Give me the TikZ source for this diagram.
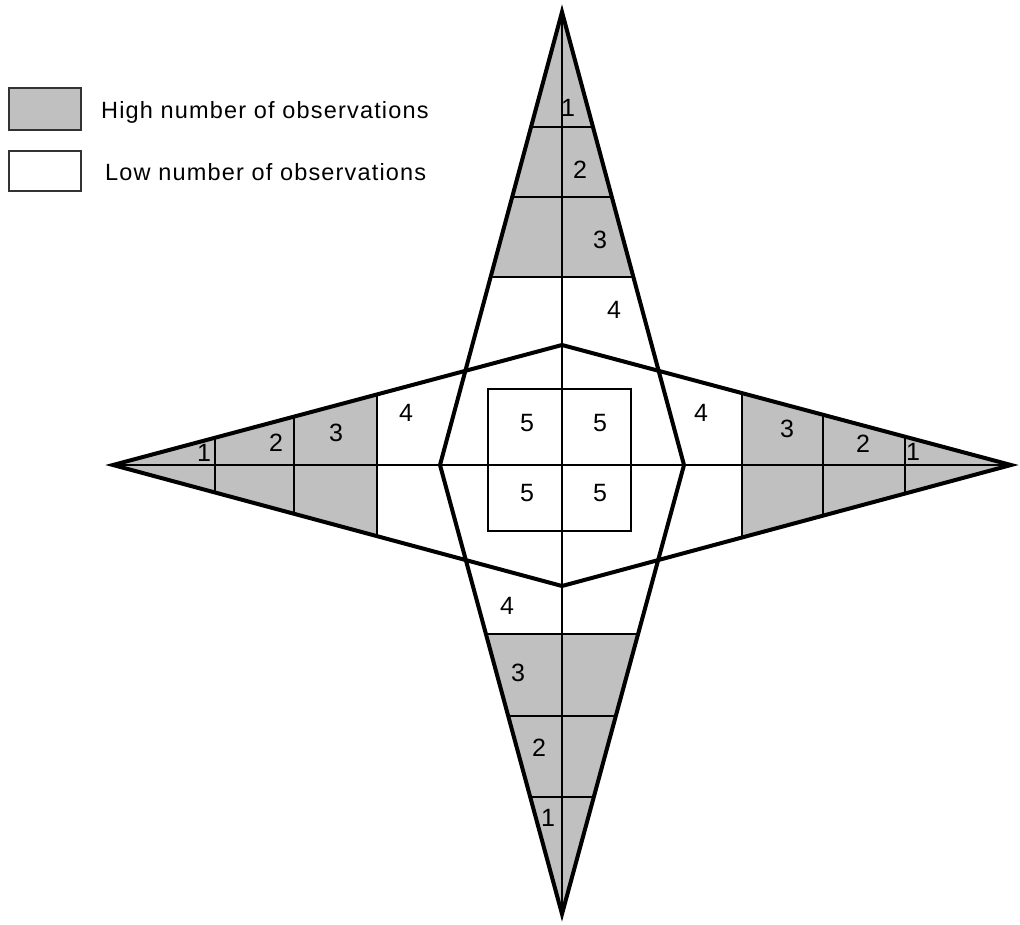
\documentclass[tikz,border=0pt]{standalone}
\usepackage{fontspec}
\setmainfont{Liberation Sans}
\newfontfamily\legendfont[LetterSpace=5]{Liberation Sans}
\definecolor{obsgray}{RGB}{192,192,192}
\begin{document}
\begin{tikzpicture}[x=1pt,y=-1pt,font=\fontsize{25}{29}\selectfont,
    outline/.style={line width=4pt,line join=miter},
    cell/.style={line width=1.5pt},
    legendbox/.style={draw=black!80,line width=1.8pt},
    legendtext/.style={anchor=west,inner sep=0pt,font=\legendfont\fontsize{23.5}{28}\selectfont},
    num/.style={inner sep=0pt}]
  \useasboundingbox (0,0) rectangle (1020,925);
  \coordinate (T) at (562,12); \coordinate (B) at (562,914);
  \coordinate (L) at (113,465); \coordinate (R) at (1011,465);
  \coordinate (vl) at (440,465); \coordinate (vr) at (684,465);
  \coordinate (ht) at (562,345); \coordinate (hb) at (562,586);
  % shaded arms and cell lines
  \begin{scope}
    \clip (T) -- (vr) -- (B) -- (vl) -- cycle;
    \fill[obsgray] (400,0) rectangle (720,277);
    \fill[obsgray] (400,634) rectangle (720,925);
    \foreach \y in {127,197,277,634,716,797} \draw[cell] (400,\y) -- (720,\y);
  \end{scope}
  \begin{scope}
    \clip (L) -- (ht) -- (R) -- (hb) -- cycle;
    \fill[obsgray] (100,300) rectangle (377,600);
    \fill[obsgray] (742,300) rectangle (1020,600);
    \foreach \x in {215,294,377,742,823,905} \draw[cell] (\x,300) -- (\x,600);
  \end{scope}
  \draw[cell] (T) -- (B); \draw[cell] (L) -- (R);
  \draw[line width=2.8pt] (488,389) rectangle (631,531);
  \draw[outline] (T) -- (vr) -- (B) -- (vl) -- cycle;
  \draw[outline] (L) -- (ht) -- (R) -- (hb) -- cycle;
  % labels
  \foreach \n/\x/\y/\t in {t1/568/108/1,t2/580/170/2,t3/600/240/3,t4/614/310/4,
      l1/204/453/1,l2/276/443/2,l3/336/433/3,l4/406/413/4,
      r4/701/413/4,r3/787/429/3,r2/863/444/2,r1/913/452/1,
      c1/527/423/5,c2/600/423/5,c3/527/493/5,c4/600/493/5,
      b4/507/606/4,b3/518/673/3,b2/539/748/2,b1/548/818/1}
    \node[num] (\n) at (\x,\y) {\t};
  % legend
  \draw[legendbox,fill=obsgray] (9,88) rectangle (81,130);
  \draw[legendbox] (9,151) rectangle (81,191);
  \node[legendtext] (high) at (101,112) {High number of observations};
  \node[legendtext] (low) at (105,172) {Low number of observations};
\end{tikzpicture}
\end{document}
